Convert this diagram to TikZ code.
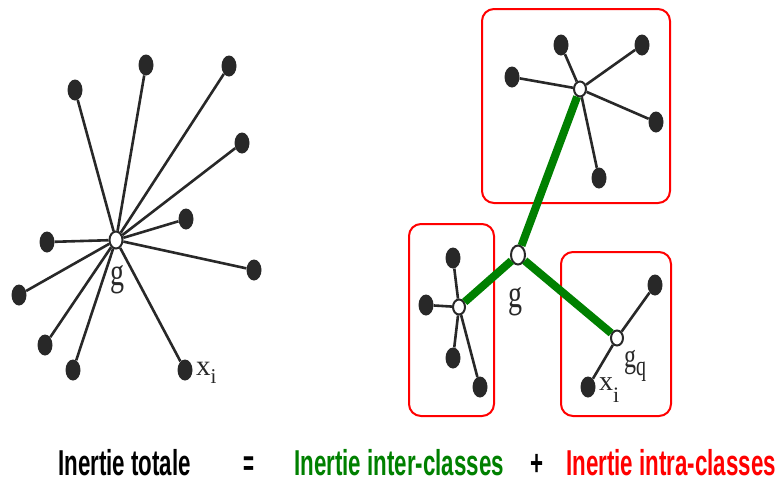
\documentclass[tikz,border=0pt]{standalone}
\usepackage{fontspec}
\setmainfont{Liberation Serif}
\newfontfamily\capsans{Liberation Sans}
\usetikzlibrary{shapes.geometric}
\definecolor{intergreen}{RGB}{0,128,0}
\definecolor{intrared}{RGB}{255,0,0}
\definecolor{dotgray}{RGB}{40,40,40}
% tall serif letter, as in the printed figure
\newcommand{\tallg}[1]{\scalebox{1}[1.4]{#1}}
% narrow bold caption text
\newcommand{\narrow}[1]{\scalebox{0.62}[1]{#1}}
\begin{document}
\begin{tikzpicture}[x=1pt,y=-1pt,
  pt/.style={ellipse,fill=dotgray,draw=none,minimum width=15pt,minimum height=21pt,inner sep=0pt},
  ctr/.style={ellipse,fill=white,draw=dotgray,line width=2pt,minimum width=13pt,minimum height=17pt,inner sep=0pt},
  sctr/.style={ctr,minimum width=12pt,minimum height=15pt},
  ray/.style={line width=2.6pt,draw=dotgray},
  link/.style={line width=8pt,draw=intergreen},
  cls/.style={draw=intrared,line width=2pt,rounded corners=12pt},
  lab/.style={inner sep=0pt,text=dotgray},
  term/.style={font=\capsans\bfseries\fontsize{36}{36}\selectfont,inner sep=0pt,anchor=base west,text depth=0pt}]
\useasboundingbox (0,0) rectangle (784,483);

% ---- total inertia: every point linked to the global centre g
\node[ctr] (g) at (116,240) {};
\node[pt] (a1) at (75,90) {};
\node[pt] (a2) at (146,65) {};
\node[pt] (a3) at (229,66) {};
\node[pt] (a4) at (242,143) {};
\node[pt] (a5) at (186,219) {};
\node[pt] (a6) at (254,270) {};
\node[pt] (a7) at (47,242) {};
\node[pt] (a8) at (19,295) {};
\node[pt] (a9) at (45,345) {};
\node[pt] (a10) at (73,370) {};
\node[pt] (a11) at (185,370) {};
\foreach \p in {a1,a2,a3,a4,a5,a6,a7,a8,a9,a10,a11}
  \draw[ray] (g) -- (\p);
\node[lab,font=\fontsize{28}{28}\selectfont] (gl) at (117,280) {\tallg{g}};
\node[lab,anchor=base west] (xl) at (196,375)
  {\fontsize{29}{29}\selectfont x\raisebox{-8pt}{\fontsize{21}{21}\selectfont i}};

% ---- classes
\draw[cls] (482,9) rectangle (670,203);
\draw[cls] (409,224) rectangle (494,416);
\draw[cls] (561,252) rectangle (671,416);

% global centre and class centres
\node[ctr,minimum width=14pt,minimum height=19pt] (G) at (518,255) {};
\node[sctr] (c1) at (580,89) {};
\node[sctr] (c2) at (459,307) {};
\node[sctr] (c3) at (617,338) {};

% class 1 (top)
\node[pt] (b1) at (561,45) {};
\node[pt] (b2) at (642,45) {};
\node[pt] (b3) at (512,77) {};
\node[pt] (b4) at (656,122) {};
\node[pt] (b5) at (599,178) {};
\foreach \p in {b1,b2,b3,b4,b5}
  \draw[ray] (c1) -- (\p);

% class 2 (left)
\node[pt] (d1) at (453,258) {};
\node[pt] (d2) at (426,305) {};
\node[pt] (d3) at (453,358) {};
\node[pt] (d4) at (480,387) {};
\foreach \p in {d1,d2,d3,d4}
  \draw[ray] (c2) -- (\p);

% class 3 (right)
\node[pt] (e1) at (655,285) {};
\node[pt] (e2) at (588,387) {};
\foreach \p in {e1,e2}
  \draw[ray] (c3) -- (\p);

% between-class links
\foreach \c in {c1,c2,c3}
  \draw[link] (G) -- (\c);

\node[lab,font=\fontsize{28}{28}\selectfont] (Gl) at (515,302) {\tallg{g}};
\node[lab,anchor=base west] (gql) at (624,367)
  {\fontsize{24}{24}\selectfont\tallg{g}\raisebox{-8pt}{\fontsize{20}{20}\selectfont\tallg{q}}};
\node[lab,anchor=base west] (xql) at (599,390)
  {\fontsize{28}{28}\selectfont x\raisebox{-12pt}{\fontsize{22}{22}\selectfont i}};

% ---- decomposition of the inertia
\node[term] (t1) at (58,475) {\narrow{Inertie totale}};
\node[term] (eq) at (243,475) {\scalebox{0.52}[1]{=}};
\node[term,text=intergreen] (t2) at (294,475) {\narrow{Inertie inter-classes}};
\node[term] (pl) at (530,475) {\narrow{+}};
\node[term,text=intrared] (t3) at (566,475) {\narrow{Inertie intra-classes}};
\end{tikzpicture}
\end{document}
